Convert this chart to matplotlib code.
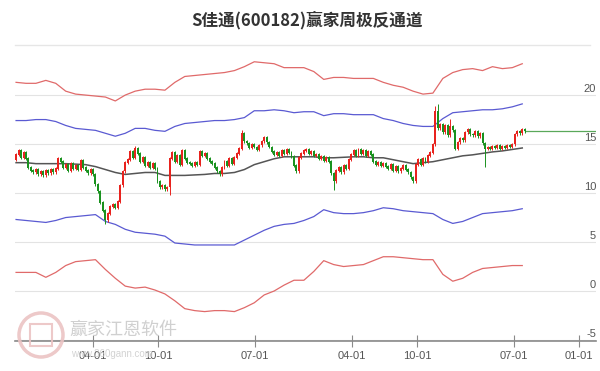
import numpy as np
import pandas as pd
import matplotlib
matplotlib.use('Agg')
import matplotlib.pyplot as plt
from matplotlib.patches import Circle, Rectangle

plt.rcParams['font.family'] = ['Noto Sans CJK SC', 'DejaVu Sans']

title = 'S佳通(600182)赢家周极反通道'

# weekly closes
closes = [13.9, 14.3, 13.6, 14.1, 13.5, 12.6, 12.3,
          12.1, 12.4, 11.9, 12.2, 11.8, 12.3, 12.0, 12.4, 12.1, 12.5,
          13.5, 13.2,
          12.6, 12.9, 12.3, 13.0, 12.5, 12.8, 12.4,
          13.3,
          12.6, 12.3, 12.0, 12.4, 11.9,
          10.9, 10.2, 9.0, 8.2, 7.2,
          7.9, 8.6, 8.8, 8.5, 9.1,
          10.8, 12.2, 13.1,
          13.4, 14.2, 13.6, 14.5, 14.0,
          13.2, 13.6, 12.8, 13.1, 12.6, 13.0, 12.5,
          11.2, 10.6, 10.8, 10.4, 10.6,
          13.5,
          14.1, 13.2, 13.8, 12.9, 14.3, 13.5, 13.1,
          13.0, 12.8, 13.1, 12.9,
          14.2, 13.8, 14.0, 13.5, 13.2,
          13.0, 12.6, 12.2, 11.9,
          12.6, 13.2, 12.8, 13.5, 13.0, 13.6,
          14.0, 14.5,
          16.1, 15.3,
          15.1, 14.6, 15.0, 14.7, 14.4, 14.9, 15.3,
          15.7, 15.2, 14.7,
          14.2, 13.9, 14.1, 13.8,
          14.3, 14.0, 14.4, 14.1, 13.7,
          12.8, 12.2,
          13.6, 14.0, 14.3,
          14.4, 14.0, 14.2, 13.8,
          13.9, 13.5, 13.7, 13.3, 13.6, 13.2,
          12.0, 11.2,
          12.3, 12.6, 12.1, 12.8, 12.5,
          13.4, 13.9, 14.3, 13.8, 14.4,
          14.0, 14.3, 13.8, 14.2, 13.9,
          13.2, 12.9, 13.1, 12.8, 13.0, 12.7,
          12.5, 12.9, 12.3, 12.7, 12.2, 12.5,
          12.8, 12.4, 12.1, 11.6,
          11.2, 12.9, 13.4,
          12.9, 13.5, 13.2, 13.8,
          14.1, 15.0, 18.3, 16.6,
          17.0, 16.2, 16.9, 15.9, 16.8, 16.4,
          14.5,
          15.2, 15.6, 15.4,
          16.2, 16.5, 16.0,
          15.9, 16.3, 15.8, 16.1,
          15.1, 14.5,
          14.7, 14.5, 14.8, 14.6, 14.9, 14.5, 14.8, 14.6,
          14.9, 14.7, 15.0,
          16.0,
          16.3, 16.1, 16.5, 16.3]
first_open = 13.4
spike_high = {48: 14.8, 91: 16.4, 169: 18.9, 170: 19.1, 175: 17.6}
spike_low = {36: 6.8, 62: 9.8, 128: 10.3, 160: 11.0, 189: 12.7}

# channel lines, every 4th week
upper_red = [21.3, 21.2, 21.2, 21.5, 21.2, 20.4, 20.1, 20.0, 19.9, 19.8, 19.4, 20.0, 20.4,
             20.6, 20.6, 20.5, 21.3, 21.9, 22.0, 22.1, 22.2, 22.3, 22.5, 22.9, 23.4, 23.3,
             23.2, 22.8, 22.8, 22.8, 22.4, 21.6, 21.8, 21.8, 21.7, 21.7, 21.7, 21.3, 21.0,
             20.8, 20.4, 20.1, 20.2, 21.7, 22.3, 22.6, 22.7, 22.5, 22.9, 22.7, 22.8, 23.2]
upper_blue = [17.4, 17.4, 17.5, 17.5, 17.3, 16.9, 16.6, 16.5, 16.4, 16.1, 15.8, 16.1, 16.6,
              16.6, 16.4, 16.3, 16.8, 17.1, 17.2, 17.3, 17.4, 17.4, 17.5, 17.7, 18.4, 18.4,
              18.5, 18.4, 18.2, 18.3, 18.3, 17.9, 18.1, 18.1, 18.0, 18.0, 18.0, 17.6, 17.4,
              17.1, 16.9, 16.8, 16.8, 17.6, 18.2, 18.3, 18.4, 18.5, 18.5, 18.6, 18.8, 19.1]
middle = [13.1, 13.1, 13.0, 13.0, 13.0, 13.0, 12.95, 12.9, 12.7, 12.4, 12.1, 11.9, 12.0,
          12.1, 12.1, 11.8, 11.8, 11.8, 11.85, 11.9, 12.0, 12.0, 12.1, 12.4, 12.9, 13.2,
          13.5, 13.7, 13.7, 13.7, 13.7, 13.6, 13.6, 13.65, 13.7, 13.7, 13.6, 13.6, 13.4,
          13.2, 13.0, 13.1, 13.2, 13.4, 13.6, 13.8, 13.9, 14.05, 14.2, 14.3, 14.45, 14.6]
lower_blue = [7.3, 7.2, 7.1, 7.0, 7.2, 7.5, 7.6, 7.7, 7.8, 7.1, 6.8, 6.3, 6.0,
              5.9, 5.8, 5.6, 4.9, 4.8, 4.7, 4.7, 4.7, 4.7, 4.7, 5.2, 5.7, 6.2,
              6.6, 6.8, 6.9, 7.2, 7.6, 8.3, 8.0, 7.9, 7.9, 8.0, 8.2, 8.5, 8.4,
              8.2, 8.1, 8.0, 7.9, 7.3, 6.9, 7.1, 7.5, 7.9, 8.0, 8.1, 8.2, 8.4]
lower_red = [1.9, 1.9, 1.9, 1.4, 1.9, 2.6, 3.0, 3.1, 3.2, 2.2, 1.3, 0.5, 0.3,
             0.4, 0.1, -0.3, -1.0, -1.8, -2.0, -2.1, -2.0, -2.0, -2.1, -1.7, -1.2, -0.4,
             0.0, 0.6, 1.1, 1.1, 2.0, 3.1, 2.7, 2.5, 2.6, 2.7, 3.1, 3.5, 3.5,
             3.4, 3.3, 3.2, 3.2, 1.7, 1.0, 1.3, 1.9, 2.3, 2.4, 2.5, 2.6, 2.6]

tick_dates = ['2019-04-01', '2019-10-01', '2020-07-01', '2021-04-01',
              '2021-10-01', '2022-07-01', '2023-01-01']
tick_labels = ['04-01', '10-01', '07-01', '04-01', '10-01', '07-01', '01-01']
y_levels = [20, 15, 10, 5, 0, -5]

dates = pd.date_range('2018-08-27', periods=len(closes), freq='7D')
c = np.array(closes)
o = np.concatenate(([first_open], c[:-1]))
hi = np.maximum(o, c) + 0.15
lo = np.minimum(o, c) - 0.15
for k, v in spike_high.items():
    hi[k] = v
for k, v in spike_low.items():
    lo[k] = v

fig = plt.figure(figsize=(6, 3.71), dpi=100)
ax = fig.add_axes([0.025, 0.0809, 0.9683, 0.7843])

for yv in y_levels:
    ax.axhline(yv, color='#e3e3e3', lw=0.8, zorder=0)

band_dates = dates[::4]
ax.plot(band_dates, upper_red, color='#e06a6a', lw=0.9)
ax.plot(band_dates, lower_red, color='#e06a6a', lw=0.9)
ax.plot(band_dates, upper_blue, color='#5a5ad2', lw=0.9)
ax.plot(band_dates, lower_blue, color='#5a5ad2', lw=0.9)
ax.plot(band_dates, middle, color='#555555', lw=1.1)

up = c >= o
cols = np.where(up, '#e8231e', '#1a921f')
ax.vlines(dates, lo, hi, colors=cols, lw=0.7, zorder=3)
ax.bar(dates, np.abs(c - o) + 0.05, bottom=np.minimum(o, c), width=5.5,
       color=cols, zorder=4)

ax.plot([dates[-1], pd.Timestamp('2023-02-20')], [c[-1], c[-1]],
        color='#5aa85a', lw=0.9, zorder=2)

ax.set_xlim(pd.Timestamp('2018-08-24'), pd.Timestamp('2023-02-18'))
ax.set_ylim(-5.1, 24.6)

for yv in y_levels:
    ax.text(1.0, yv + 0.1, str(yv), transform=ax.get_yaxis_transform(),
            ha='right', va='bottom', fontsize=8, color='#555555',
            family=['Liberation Sans', 'DejaVu Sans'])

for s in ['top', 'right', 'left']:
    ax.spines[s].set_visible(False)
ax.spines['bottom'].set_color('#8a8a8a')
ax.spines['bottom'].set_linewidth(1.2)
ax.set_yticks([])
ax.set_xticks([pd.Timestamp(d) for d in tick_dates])
ax.set_xticklabels(tick_labels, family=['Liberation Sans', 'DejaVu Sans'])
ax.tick_params(axis='x', direction='inout', length=8, width=0.8, color='#8a8a8a',
               labelsize=8, labelcolor='#555555', pad=3)

# title and separator
fig.text(0.512, 0.945, title, ha='center', va='center', fontsize=12,
         fontweight='bold', color='#333333')
fig.add_artist(plt.Line2D([0.025, 0.983], [0.878, 0.878], color='#e6e6e6', lw=1))

# watermark logo (inch coords)
fig.add_artist(Circle((0.41, 0.36), 0.22, transform=fig.dpi_scale_trans,
                      facecolor='none', edgecolor='#ebc3c3', lw=2.5, alpha=0.9))
fig.add_artist(Rectangle((0.30, 0.25), 0.22, 0.22, transform=fig.dpi_scale_trans,
                         facecolor='none', edgecolor='#ebc3c3', lw=1.5, alpha=0.9))
fig.text(0.115, 0.112, '赢家江恩软件', fontsize=13, color='#d0d0d0', va='center')
fig.text(0.118, 0.045, 'www.360gann.com', fontsize=7, color='#d3d3d3', va='center',
         family=['Liberation Sans', 'DejaVu Sans'], zorder=0)

fig.savefig('out.png', dpi=100)
